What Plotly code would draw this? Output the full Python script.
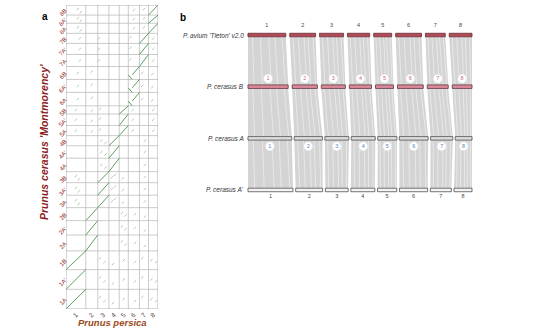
import plotly.graph_objects as go

W, H = 544, 329

# ---------------- Panel a data ----------------
peach_chroms = ['1', '2', '3', '4', '5', '6', '7', '8']
peach_sizes = [48, 29, 27, 25, 22, 27, 22, 23]          # Mb
cherry_rows = ['1A', "1A'", '1B', '2A', "2A'", '2B', '3A', "3A'", '3B',
               '4A', "4A'", '4B', '5A', "5A'", '5B', '6A', "6A'", '6B',
               '7A', "7A'", '7B', '8A', "8A'", '8B']
cherry_sizes = [41, 41, 39, 33, 30, 27, 26, 26, 23, 28, 26, 21,
                21, 24, 17, 28, 27, 27, 25, 23, 21, 21, 17, 21]   # Mb

# main syntenic blocks per homeolog group: (peach chr, x0, x1, y0, y1) as fractions
main_blocks = {
    1: [(1, 0, 1, 0, 1)],
    2: [(2, 0, 1, 0, 1)],
    3: [(3, 0, 1, 0, 1)],
    4: [(4, 0, 1, 0, 1)],
    5: [(5, 0, 1, 0, 1)],
    6: [(6, 0, 0.35, 0.35, 0), (6, 0.35, 1, 0.35, 1)],
    7: [(7, 0, 1, 0, 1)],
    8: [(8, 0, 1, 0, 1)],
}
# minor hits per homeolog group: (peach chr, x frac, y frac)
minor_hits = {
    1: [(3, 0.2, 0.6), (3, 0.6, 0.4), (4, 0.4, 0.3), (5, 0.5, 0.5), (6, 0.6, 0.4),
        (7, 0.3, 0.6), (8, 0.3, 0.5), (8, 0.8, 0.4)],
    2: [(5, 0.3, 0.6), (5, 0.7, 0.4), (6, 0.6, 0.5), (7, 0.6, 0.3)],
    3: [(1, 0.5, 0.6), (1, 0.65, 0.3), (4, 0.3, 0.5), (4, 0.6, 0.7), (5, 0.4, 0.4),
        (7, 0.6, 0.5)],
    4: [(3, 0.3, 0.5), (3, 0.7, 0.3), (7, 0.6, 0.5)],
    5: [(1, 0.5, 0.5), (2, 0.5, 0.4), (3, 0.2, 0.6), (6, 0.4, 0.5), (8, 0.5, 0.5)],
    6: [(1, 0.6, 0.5), (2, 0.5, 0.6), (7, 0.3, 0.5), (8, 0.4, 0.4)],
    7: [(1, 0.7, 0.5), (3, 0.1, 0.5), (6, 0.2, 0.6), (8, 0.5, 0.5)],
    8: [(1, 0.6, 0.6), (1, 0.75, 0.3), (6, 0.5, 0.5), (7, 0.5, 0.6)],
}

# ---------------- Panel b data ----------------
genomes = ["P. avium 'Tieton' v2.0", "P. cerasus B", "P. cerasus A", "P. cerasus A'"]
chrom_labels = ['1', '2', '3', '4', '5', '6', '7', '8']
avium_sizes = [63, 43, 40, 37, 30, 43, 33, 38]
cerB_sizes = [67, 42, 40, 37, 30, 43, 35, 33]
cerA_sizes = [73, 47, 40, 40, 32, 48, 37, 28]
cerA2_sizes = [75, 45, 38, 40, 32, 47, 35, 30]
genome_sizes = [avium_sizes, cerB_sizes, cerA_sizes, cerA2_sizes]

# ---------------- helpers ----------------
def px_x(p):
    return p / W

def px_y(p):
    return 1 - p / H

def cum(sizes):
    out = [0]
    for s in sizes:
        out.append(out[-1] + s)
    return out

fig = go.Figure()
shapes = []
annotations = []

# ====== Panel a ======
pc = cum(peach_sizes)
cc = cum(cherry_sizes)
xa_dom = [px_x(66), px_x(158)]
ya_dom = [px_y(309), px_y(5)]

grid_col = '#b4b4b4'
for b in pc[1:-1]:
    shapes.append(dict(type='line', xref='x', yref='y', x0=b, x1=b, y0=0, y1=cc[-1],
                       line=dict(color=grid_col, width=0.7), layer='below'))
for b in cc[1:-1]:
    shapes.append(dict(type='line', xref='x', yref='y', x0=0, x1=pc[-1], y0=b, y1=b,
                       line=dict(color=grid_col, width=0.7), layer='below'))
shapes.append(dict(type='rect', xref='x', yref='y', x0=0, x1=pc[-1], y0=0, y1=cc[-1],
                   line=dict(color='#a0a0a0', width=0.8)))

mx, my = [], []
nx, ny = [], []
dx = 2.4 * pc[-1] / 91.0
dy = 2.4 * cc[-1] / 307.0
for ri, row in enumerate(cherry_rows):
    g = int(row[0])
    y_base = cc[ri]
    ysz = cherry_sizes[ri]
    for (ch, x0, x1, y0, y1) in main_blocks[g]:
        xb = pc[ch - 1]
        xs = peach_sizes[ch - 1]
        mx += [xb + x0 * xs, xb + x1 * xs, None]
        my += [y_base + y0 * ysz, y_base + y1 * ysz, None]
    for (ch, xf, yf) in minor_hits[g]:
        xc = pc[ch - 1] + xf * peach_sizes[ch - 1]
        yc = y_base + yf * ysz
        nx += [xc - dx / 2, xc + dx / 2, None]
        ny += [yc - dy / 2, yc + dy / 2, None]

fig.add_trace(go.Scatter(x=nx, y=ny, mode='lines', line=dict(color='#9dbb9d', width=0.8),
                         xaxis='x', yaxis='y', hoverinfo='skip'))
fig.add_trace(go.Scatter(x=mx, y=my, mode='lines', line=dict(color='#4a944f', width=0.9),
                         xaxis='x', yaxis='y', hoverinfo='skip'))

peach_centers = [(pc[i] + pc[i + 1]) / 2 for i in range(len(peach_sizes))]
cherry_centers = [(cc[i] + cc[i + 1]) / 2 for i in range(len(cherry_sizes))]

# ====== Panel b ======
xb_dom = [px_x(240), px_x(480)]
xb_range = [0, 400]
row_start, row_end = 13.3, 386.7
row_y = [3, 2, 1, 0]
yb_dom = [px_y(215.8), px_y(9.2)]

positions = []
for sizes in genome_sizes:
    gap = (row_end - row_start - sum(sizes)) / (len(sizes) - 1)
    pos = []
    x = row_start
    for s in sizes:
        pos.append((x, x + s))
        x += s + gap
    positions.append(pos)

half = 0.034
# ribbons
rx, ry = [], []
wx, wy = [], []
for k in range(3):
    top, bot = positions[k], positions[k + 1]
    yt, yb = row_y[k] - half, row_y[k + 1] + half
    for (a0, a1), (b0, b1) in zip(top, bot):
        rx += [a0, a1, b1, b0, a0, None]
        ry += [yt, yt, yb, yb, yt, None]
        for f in (0.12, 0.33, 0.55, 0.71, 0.9):
            wx += [a0 + f * (a1 - a0), b0 + (f + 0.03) * (b1 - b0), None]
            wy += [yt, yb, None]

fig.add_trace(go.Scatter(x=rx, y=ry, mode='lines', fill='toself', fillcolor='#d4d4d4',
                         line=dict(width=0, color='#d4d4d4'), xaxis='x2', yaxis='y2',
                         hoverinfo='skip'))
fig.add_trace(go.Scatter(x=wx, y=wy, mode='lines', line=dict(color='rgba(255,255,255,0.75)', width=0.6),
                         xaxis='x2', yaxis='y2', hoverinfo='skip'))

bar_fill = ['#b04d59', '#de8a9a', '#dcdcdc', '#f4f4f4']
bar_line = ['#6b2a33', '#5a3338', '#505050', '#505050']
for k, pos in enumerate(positions):
    for (a0, a1) in pos:
        shapes.append(dict(type='rect', xref='x2', yref='y2', x0=a0, x1=a1,
                           y0=row_y[k] - half, y1=row_y[k] + half,
                           fillcolor=bar_fill[k], line=dict(color=bar_line[k], width=0.8)))
    annotations.append(dict(text='<i>' + genomes[k] + '</i>', xref='paper', yref='y2',
                            x=px_x(246), y=row_y[k], xanchor='right', yanchor='middle',
                            showarrow=False, font=dict(size=6.5, color='#333333')))

# top and bottom chromosome numbers
top_c = [(a + b) / 2 for a, b in positions[0]]
bot_c = [(a + b) / 2 for a, b in positions[3]]
fig.add_trace(go.Scatter(x=top_c, y=[3.19] * 8, mode='text', text=chrom_labels,
                         textfont=dict(size=5.5, color='#444444'), xaxis='x2', yaxis='y2',
                         hoverinfo='skip'))
fig.add_trace(go.Scatter(x=bot_c, y=[-0.135] * 8, mode='text', text=chrom_labels,
                         textfont=dict(size=5.5, color='#444444'), xaxis='x2', yaxis='y2',
                         hoverinfo='skip'))
# circled numbers
b_c = [(a + b) / 2 for a, b in positions[1]]
a_c = [(a + b) / 2 for a, b in positions[2]]
fig.add_trace(go.Scatter(x=b_c, y=[2.155] * 8, mode='markers+text', text=chrom_labels,
                         marker=dict(symbol='circle', size=9, color='white',
                                     line=dict(color='#dddddd', width=0.5)),
                         textfont=dict(size=5.5, color='#c66b7c'), textposition='middle center',
                         xaxis='x2', yaxis='y2', hoverinfo='skip'))
fig.add_trace(go.Scatter(x=a_c, y=[0.845] * 8, mode='markers+text', text=chrom_labels,
                         marker=dict(symbol='circle', size=9, color='white',
                                     line=dict(color='#dddddd', width=0.5)),
                         textfont=dict(size=5.5, color='#5b84b1'), textposition='middle center',
                         xaxis='x2', yaxis='y2', hoverinfo='skip'))

# panel labels and titles
annotations += [
    dict(text='<b>a</b>', xref='paper', yref='paper', x=px_x(40), y=px_y(9),
         showarrow=False, font=dict(size=10, color='black')),
    dict(text='<b>b</b>', xref='paper', yref='paper', x=px_x(178), y=px_y(10),
         showarrow=False, font=dict(size=10, color='black')),
    dict(text="<b><i>Prunus cerasus 'Montmorency'</i></b>", xref='paper', yref='paper',
         x=px_x(44), y=px_y(142), xanchor='center', yanchor='middle', textangle=-90,
         showarrow=False, font=dict(size=10.5, color='#8b1c24')),
    dict(text='<b><i>Prunus persica</i></b>', xref='paper', yref='paper',
         x=px_x(112), y=0, xanchor='center', yanchor='bottom', showarrow=False,
         borderpad=0, font=dict(size=9.5, color='#9c4a1a')),
]

fig.update_layout(
    width=W, height=H, margin=dict(l=0, r=0, t=0, b=0),
    paper_bgcolor='white', plot_bgcolor='white', showlegend=False,
    font=dict(family='Liberation Sans, Arial, sans-serif'),
    xaxis=dict(domain=xa_dom, range=[0, pc[-1]], showgrid=False, zeroline=False,
               tickvals=peach_centers, ticktext=peach_chroms, tickangle=-45,
               tickfont=dict(size=6.5, color='#5a3a3a'), ticks='', ticklabelstandoff=0,
               fixedrange=True),
    yaxis=dict(domain=ya_dom, range=[0, cc[-1]], showgrid=False, zeroline=False,
               tickvals=cherry_centers, ticktext=cherry_rows, tickangle=-45,
               tickfont=dict(size=6, color='#8b1c24'), ticks='', fixedrange=True),
    xaxis2=dict(domain=xb_dom, range=xb_range, visible=False, anchor='y2'),
    yaxis2=dict(domain=yb_dom, range=[-0.5, 3.5], visible=False, anchor='x2'),
    shapes=shapes, annotations=annotations,
)

fig.write_html('out.html')
